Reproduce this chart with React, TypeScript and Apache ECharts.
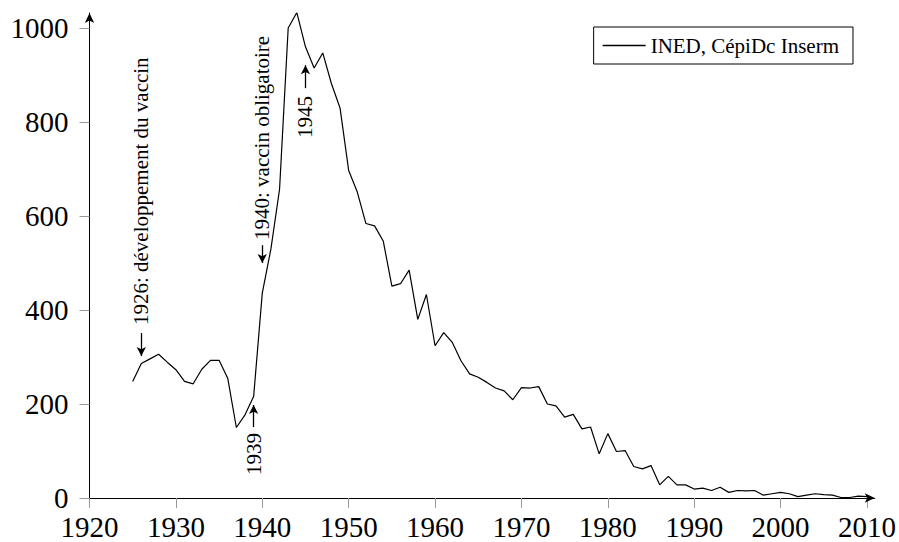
import React, { useEffect, useRef } from "react";
import * as echarts from "echarts";

const years = [
  1925, 1926, 1927, 1928, 1929, 1930, 1931, 1932, 1933, 1934, 1935, 1936, 1937, 1938, 1939,
  1940, 1941, 1942, 1943, 1944, 1945, 1946, 1947, 1948, 1949, 1950, 1951, 1952, 1953, 1954,
  1955, 1956, 1957, 1958, 1959, 1960, 1961, 1962, 1963, 1964, 1965, 1966, 1967, 1968, 1969,
  1970, 1971, 1972, 1973, 1974, 1975, 1976, 1977, 1978, 1979, 1980, 1981, 1982, 1983, 1984,
  1985, 1986, 1987, 1988, 1989, 1990, 1991, 1992, 1993, 1994, 1995, 1996, 1997, 1998, 1999,
  2000, 2001, 2002, 2003, 2004, 2005, 2006, 2007, 2008, 2009, 2010,
];

const deaths = [
  248, 286, 296, 306, 289, 273, 248, 243, 274, 293, 293, 255, 150, 177, 216,
  436, 530, 657, 1000, 1033, 960, 915, 947, 882, 830, 697, 651, 584, 579, 547,
  451, 456, 485, 380, 433, 324, 352, 331, 292, 264, 257, 246, 234, 228, 209,
  235, 234, 237, 200, 196, 172, 178, 147, 151, 94, 137, 99, 101, 67, 62,
  69, 28, 46, 28, 28, 19, 21, 16, 23, 12, 16, 15, 16, 6, 9,
  12, 9, 3, 6, 9, 7, 6, 1, 1, 4, 3,
];

const seriesName = "INED, CépiDc Inserm";

const xTicks = [1920, 1930, 1940, 1950, 1960, 1970, 1980, 1990, 2000, 2010];
const yTicks = [0, 200, 400, 600, 800, 1000];

// annotations: text, year, value where the (rotated) text begins, arrow from/to values
const annotationTexts = ["1926: développement du vaccin", "1940: vaccin obligatoire", "1945", "1939"];
const annotationYears = [1926, 1940, 1945, 1939];
const annotationTextStart = [368, 549, 766, 49];
const arrowFrom = [351, 538, 872, 151];
const arrowTo = [302, 500, 921, 198];

const FONT = '"Liberation Serif", "Times New Roman", serif';

export default function App() {
  const ref = useRef<HTMLDivElement>(null);

  useEffect(() => {
    if (!ref.current) return;
    const chart = echarts.init(ref.current, null, { renderer: "svg" });
    const option: any = {
      animation: false,
      backgroundColor: "#fff",
      grid: { left: 89.5, top: 13, width: 787.5, height: 485, containLabel: false },
      legend: {
        data: [{ name: seriesName, icon: "rect" }],
        right: 46,
        top: 27,
        padding: [8, 14, 8, 9],
        itemWidth: 43,
        itemHeight: 1.3,
        itemStyle: { color: "#000", borderWidth: 0 },
        borderColor: "#000",
        borderWidth: 1,
        borderRadius: 0,
        textStyle: { fontFamily: FONT, fontSize: 21, color: "#000" },
      },
      xAxis: {
        type: "value",
        min: 1920,
        max: 2010.9,
        interval: 10,
        splitLine: { show: false },
        axisLine: {
          onZero: false,
          lineStyle: { color: "#000", width: 1 },
          symbol: ["none", "arrow"],
          symbolSize: [7, 10],
        },
        axisTick: { show: true, length: 10, lineStyle: { color: "#999" }, customValues: xTicks },
        axisLabel: {
          color: "#000",
          fontFamily: FONT,
          fontSize: 29,
          margin: 14,
          customValues: xTicks,
          formatter: (v: number) => String(v),
        },
      },
      yAxis: {
        type: "value",
        min: 0,
        max: 1032,
        interval: 200,
        splitLine: { show: false },
        axisLine: {
          show: true,
          lineStyle: { color: "#000", width: 1 },
          symbol: ["none", "arrow"],
          symbolSize: [7, 10],
        },
        axisTick: { show: true, length: 10, lineStyle: { color: "#999" }, customValues: yTicks },
        axisLabel: {
          color: "#000",
          fontFamily: FONT,
          fontSize: 29,
          margin: 21,
          customValues: yTicks,
          formatter: (v: number) => String(v),
        },
      },
      series: [
        {
          name: seriesName,
          type: "line",
          symbol: "none",
          showSymbol: false,
          lineStyle: { color: "#000", width: 1.2 },
          itemStyle: { color: "#000" },
          data: years.map((y, i) => [y, deaths[i]]),
          markLine: {
            silent: true,
            symbol: ["none", "arrow"],
            symbolSize: [7, 9],
            label: { show: false },
            lineStyle: { color: "#000", width: 1.3, type: "solid" },
            data: annotationYears.map((y, i) => [
              { coord: [y, arrowFrom[i]] },
              { coord: [y, arrowTo[i]] },
            ]),
          },
        },
      ],
    };
    chart.setOption(option);

    const graphics = annotationTexts.map((t, i) => {
      const p = chart.convertToPixel({ gridIndex: 0 }, [annotationYears[i], annotationTextStart[i]]) as number[];
      return {
        type: "text",
        x: p[0],
        y: p[1],
        rotation: Math.PI / 2,
        style: {
          text: t,
          fill: "#000",
          font: `21px ${FONT}`,
          textAlign: "left",
          align: "left",
          textVerticalAlign: "middle",
          verticalAlign: "middle",
        },
      };
    });
    chart.setOption({ graphic: graphics });

    return () => chart.dispose();
  }, []);

  return (
    <div
      ref={ref}
      style={{ position: "fixed", left: 0, top: 0, width: 899, height: 542, background: "#fff" }}
    />
  );
}
